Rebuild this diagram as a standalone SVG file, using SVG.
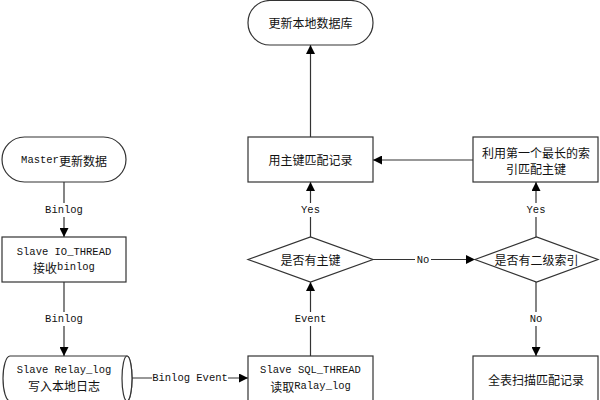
<svg xmlns="http://www.w3.org/2000/svg" width="600" height="400" viewBox="0 0 600 400">
<style>
.n{fill:#fff;stroke:#333;stroke-width:1.2}
.c{fill:none;stroke:#333;stroke-width:1.2;marker-end:url(#ah)}
text{font-family:"Liberation Mono","Noto Sans CJK SC",monospace;font-size:10.5px;fill:#111;text-anchor:middle;dominant-baseline:central}
.z{font-family:"Noto Sans CJK SC","Liberation Sans",sans-serif;font-size:12px}
.lb{fill:#fff;stroke:none}
</style>
<defs>
<marker id="ah" viewBox="0 0 10 10" refX="10" refY="5" markerWidth="9" markerHeight="9" markerUnits="userSpaceOnUse" orient="auto">
<path d="M0,0 L10,5 L0,10 Z" fill="#000"/>
</marker>
</defs>
<rect width="600" height="400" fill="#fff"/>
<g id="connectors">
<path class="c" d="M64,182 V237"/>
<path class="c" d="M64,282 V356"/>
<path class="c" d="M132,378 H248"/>
<path class="c" d="M310.5,356 V282"/>
<path class="c" d="M310.5,237 V182"/>
<path class="c" d="M310.5,137 V45"/>
<path class="c" d="M373,259.5 H475"/>
<path class="c" d="M536,237 V182"/>
<path class="c" d="M473,160 H373"/>
<path class="c" d="M536,282 V356"/>
<rect class="lb" x="45" y="203" width="38" height="14"/>
<text x="64" y="210">Binlog</text>
<rect class="lb" x="45" y="312" width="38" height="14"/>
<text x="64" y="319">Binlog</text>
<rect class="lb" x="152" y="371" width="76" height="14"/>
<text x="190" y="378">Binlog Event</text>
<rect class="lb" x="294" y="312" width="33" height="14"/>
<text x="310.5" y="319">Event</text>
<rect class="lb" x="299" y="203" width="23" height="14"/>
<text x="310.5" y="210">Yes</text>
<rect class="lb" x="415" y="253" width="16" height="14"/>
<text x="423" y="260">No</text>
<rect class="lb" x="525" y="203" width="23" height="14"/>
<text x="536" y="210">Yes</text>
<rect class="lb" x="528" y="312" width="16" height="14"/>
<text x="536" y="319">No</text>
</g>
<g id="master">
<rect class="n" x="2" y="137" width="124" height="45" rx="22.5"/>
<text x="64" y="160">Master<tspan class="z">更新数据</tspan></text>
</g>
<g id="io">
<rect class="n" x="2" y="237" width="124" height="45"/>
<text x="64" y="252">Slave IO_THREAD</text>
<text x="64" y="267"><tspan class="z">接收</tspan>binlog</text>
</g>
<g id="relay">
<path class="n" d="M10,356 H127 A5,22.5 0 0 1 127,401 H10 A7,22.5 0 0 1 10,356 Z"/>
<ellipse class="n" cx="127" cy="378.5" rx="5" ry="22.5"/>
<text x="64" y="370">Slave Relay_log</text>
<text x="64" y="385" class="z">写入本地日志</text>
</g>
<g id="sql">
<rect class="n" x="248" y="356" width="125" height="50"/>
<text x="310.5" y="370">Slave SQL_THREAD</text>
<text x="310.5" y="386"><tspan class="z">读取</tspan>Ralay_log</text>
</g>
<g id="d1">
<path class="n" d="M248,259.5 L310.5,237 L373,259.5 L310.5,282 Z"/>
<text x="310.5" y="259.5" class="z">是否有主键</text>
</g>
<g id="pk">
<rect class="n" x="248" y="137" width="125" height="45"/>
<text x="310.5" y="159.5" class="z">用主键匹配记录</text>
</g>
<g id="update">
<rect class="n" x="248" y="0.5" width="125" height="44.5" rx="22"/>
<text x="310.5" y="22.5" class="z">更新本地数据库</text>
</g>
<g id="d2">
<path class="n" d="M475,259.5 L536.5,237 L598,259.5 L536.5,282 Z"/>
<text x="536.5" y="259.5" class="z">是否有二级索引</text>
</g>
<g id="idx">
<rect class="n" x="473" y="137" width="125" height="45"/>
<text x="536" y="152" class="z">利用第一个最长的索</text>
<text x="536" y="168" class="z">引匹配主键</text>
</g>
<g id="full">
<rect class="n" x="473" y="356" width="125" height="50"/>
<text x="536" y="379" class="z">全表扫描匹配记录</text>
</g>
</svg>
